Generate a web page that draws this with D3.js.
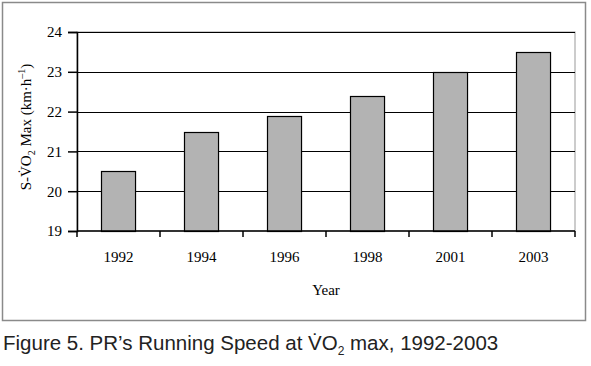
<!DOCTYPE html>
<html>
<head>
    <script src="https://d3js.org/d3.v7.min.js"></script>
    <style>
        body { margin: 0; background: #fff; }
        .serif text, text.serif { font-family: "Liberation Serif", "Times New Roman", serif; }
    </style>
</head>
<body>
    <div id="chart"></div>
    <script>
        const years = ["1992", "1994", "1996", "1998", "2001", "2003"];
        const speeds = [20.5, 21.5, 21.9, 22.4, 23.0, 23.5];
        const yTicks = [19, 20, 21, 22, 23, 24];

        const W = 591, H = 366;
        const margin = { top: 32, right: 16, bottom: 135, left: 77 };
        const width = W - margin.left - margin.right,
            height = H - margin.top - margin.bottom;

        const svg = d3.select("#chart").append("svg")
            .attr("width", W).attr("height", H);

        // outer frame
        svg.append("rect")
            .attr("x", 2.5).attr("y", 2.5)
            .attr("width", 583).attr("height", 318)
            .attr("fill", "none").attr("stroke", "#8a8a8a").attr("stroke-width", 1.5);

        const g = svg.append("g")
            .attr("class", "serif")
            .attr("transform", `translate(${margin.left},${margin.top})`);

        const x = d3.scaleBand().domain(years).range([0, width]).paddingInner(0.59).paddingOuter(0.295);
        const y = d3.scaleLinear().domain([19, 24]).range([height, 0]);

        // plot area border
        g.append("rect")
            .attr("x", 0).attr("y", 0).attr("width", width).attr("height", height)
            .attr("fill", "none").attr("stroke", "#999");

        // gridlines
        g.selectAll(".grid").data(yTicks.slice(1)).join("line")
            .attr("class", "grid")
            .attr("x1", 0).attr("x2", width)
            .attr("y1", d => Math.round(y(d)) + 0.5).attr("y2", d => Math.round(y(d)) + 0.5)
            .attr("stroke", "#000");

        // bars
        g.selectAll(".bar").data(speeds).join("rect")
            .attr("class", "bar")
            .attr("x", (d, i) => Math.round(x(years[i])) + 0.5)
            .attr("y", d => Math.round(y(d)) + 0.5)
            .attr("width", x.bandwidth())
            .attr("height", d => height - Math.round(y(d)))
            .attr("fill", "#b3b3b3").attr("stroke", "#000").attr("stroke-width", 1.2);

        // y axis
        const yAxis = g.append("g")
            .call(d3.axisLeft(y).tickValues(yTicks).tickFormat(d3.format("d")).tickSize(9).tickPadding(6));
        yAxis.select(".domain").attr("stroke", "#000").attr("stroke-width", 1.5);
        yAxis.selectAll(".tick line").attr("stroke-width", 1.5);
        yAxis.selectAll("text").attr("font-size", 15).attr("fill", "#000")
            .attr("font-family", "Liberation Serif, serif");

        // x axis: ticks at category boundaries
        const bounds = d3.range(years.length + 1).map(i => i * x.step());
        const xg = g.append("g").attr("transform", `translate(0,${height})`);
        xg.append("line").attr("x1", 0).attr("x2", width)
            .attr("stroke", "#000").attr("stroke-width", 1.5);
        xg.selectAll(".xt").data(bounds).join("line")
            .attr("class", "xt")
            .attr("x1", d => Math.round(d)).attr("x2", d => Math.round(d))
            .attr("y1", 0).attr("y2", 6)
            .attr("stroke", "#000").attr("stroke-width", 1.5);
        xg.selectAll(".xl").data(years).join("text")
            .attr("class", "xl")
            .attr("x", d => x(d) + x.bandwidth() / 2)
            .attr("y", 31)
            .attr("text-anchor", "middle")
            .attr("font-size", 15)
            .text(d => d);

        // axis titles
        g.append("text")
            .attr("x", width / 2).attr("y", height + 64)
            .attr("text-anchor", "middle").attr("font-size", 15)
            .text("Year");

        const yt = svg.append("text")
            .attr("class", "serif")
            .attr("transform", "translate(31,127) rotate(-90)")
            .attr("text-anchor", "middle").attr("font-size", 15);
        yt.append("tspan").text("S-V\u0307O");
        yt.append("tspan").attr("font-size", 10).attr("dy", 4).text("2");
        yt.append("tspan").attr("dy", -4).text(" Max (km\u00b7h");
        yt.append("tspan").attr("font-size", 10).attr("dy", -6).text("\u20131");
        yt.append("tspan").attr("dy", 6).text(")");

        // caption
        const cap = svg.append("text")
            .attr("x", 3).attr("y", 350)
            .attr("font-family", "Liberation Sans, Arial, sans-serif")
            .attr("font-size", 20.5).attr("fill", "#222");
        cap.append("tspan").text("Figure 5. PR\u2019s Running Speed at V\u0307O");
        cap.append("tspan").attr("font-size", 12).attr("dy", 5).text("2");
        cap.append("tspan").attr("dy", -5).text(" max, 1992-2003");
    </script>
</body>
</html>
